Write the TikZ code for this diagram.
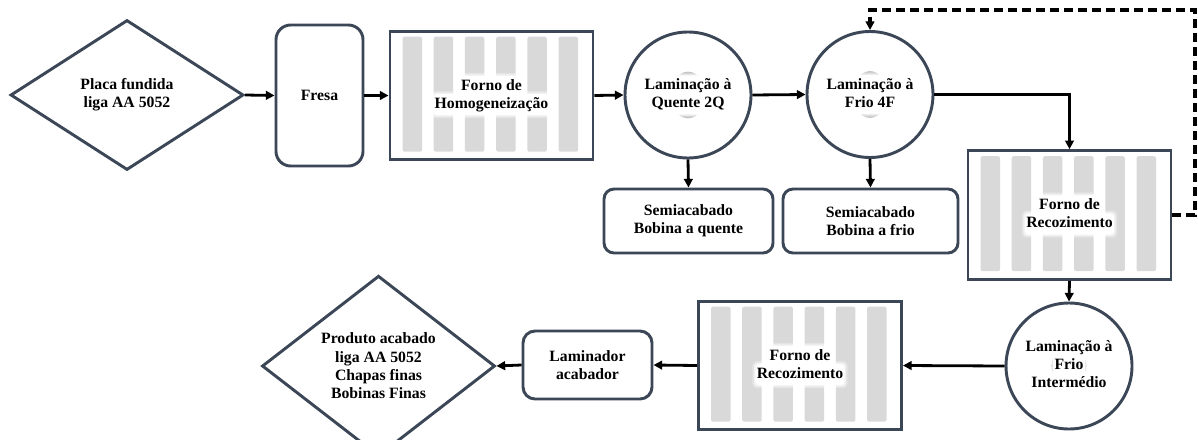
\documentclass[tikz,border=0pt]{standalone}
\usepackage{fontspec}
\setmainfont{Liberation Serif}
\usetikzlibrary{shapes.geometric,arrows.meta}

\definecolor{edge}{HTML}{3B4656}
\definecolor{barfill}{HTML}{D9D9D9}

\tikzset{
  lbl/.style={font=\bfseries\fontsize{11.8}{13.7}\selectfont, align=center, inner sep=0pt},
  frame/.style={draw=edge, line width=2.2pt, fill=white, inner sep=0pt},
  furnace/.style={frame, minimum width=152.25pt, minimum height=96.5pt},
  rollnode/.style={frame, circle, minimum size=94.5pt},
  card/.style={frame, lbl, rounded corners=#1},
  card/.default=7.5pt,
  decision/.style={frame, lbl, diamond, minimum width=174.75pt, minimum height=112.5pt},
  flow/.style={line width=2.1pt, -{Triangle[length=6.5pt,width=6.5pt]}},
  loopback/.style={flow, line width=2.4pt, dash pattern=on 6.5pt off 4pt},
  glowpad/.style={lbl, fill=white, rounded corners=3pt},
}

% six vertical heating elements inside a furnace frame
\newcommand\ovenbars[1]{%
  \foreach \k in {0,...,5}{%
    \fill[barfill, rounded corners=1.5pt]
      ([xshift={(14+31.2*\k)*0.75pt}, yshift=-5.25pt]#1.north west)
      rectangle ++(14.6pt,-86.25pt);}}

% roll drawn behind the text of a rolling-mill circle
\newcommand\rollmark[1]{%
  \shade[inner color=gray!30, outer color=gray!55] (#1) ellipse [x radius=13pt, y radius=17.5pt];}

% soft white patch behind one line of a label
\newcommand\glowpatch[2]{%
  \foreach \s/\o in {3.2/0.3, 2.2/0.55, 1.1/1}{%
    \node[glowpad, fill opacity=\o, inner sep=\s pt] at (#1) {\phantom{\strut #2}};}}

% two- and three-line labels with a white glow
\newcommand\glowtwo[4]{%
  \glowpatch{[yshift=6.85pt]#2}{#3}%
  \glowpatch{[yshift=-6.85pt]#2}{#4}%
  \node[lbl] (#1) at (#2) {\strut #3\\\strut #4};}
\newcommand\glowthree[5]{%
  \glowpatch{[yshift=13.7pt]#2}{#3}%
  \glowpatch{#2}{#4}%
  \glowpatch{[yshift=-13.7pt]#2}{#5}%
  \node[lbl] (#1) at (#2) {\strut #3\\\strut #4\\\strut #5};}

\begin{document}
\begin{tikzpicture}[x=0.75pt, y=-0.75pt, line join=miter]
\useasboundingbox (0,0) rectangle (1198,439);

% ---- upper row
\node[decision] (cast) at (127,95) {Placa fundida\\liga AA 5052};
\node[card=11pt, minimum width=65.25pt, minimum height=105.75pt] (mill) at (319.5,95.5) {Fresa};
\node[furnace] (homog) at (491.5,95.5) {};
\node[rollnode] (hot) at (688,95) {};
\node[rollnode] (cold) at (870,94.5) {};

% ---- semi-finished products
\node[card, minimum width=126.75pt, minimum height=48pt] (semihot) at (688.5,221) {Semiacabado\\Bobina a quente};
\node[card, minimum width=131.25pt, minimum height=48pt] (semicold) at (870.5,221) {Semiacabado\\Bobina a frio};

% ---- annealing and intermediate rolling
\node[furnace] (anneal) at (1069.5,215) {};
\node[rollnode] (inter) at (1069,366) {};

% ---- lower row
\node[furnace] (anneal2) at (800,365.5) {};
\node[card=9pt, minimum width=96.75pt, minimum height=51pt] (finisher) at (587.5,365) {Laminador\\acabador};
\node[decision] (product) at (378.5,366) {Produto acabado\\liga AA 5052\\Chapas finas\\Bobinas Finas};

% ---- furnace elements and rolls
\ovenbars{homog}
\ovenbars{anneal}
\ovenbars{anneal2}
\rollmark{hot}
\rollmark{cold}
\rollmark{inter}

% ---- labels
\glowtwo{homogtxt}{homog}{Forno de}{Homogeneização}
\glowtwo{hottxt}{hot}{Laminação à}{Quente 2Q}
\glowtwo{coldtxt}{cold}{Laminação à}{Frio 4F}
\glowtwo{annealtxt}{anneal}{Forno de}{Recozimento}
\glowthree{intertxt}{inter}{Laminação à}{Frio}{Intermédio}
\glowtwo{anneal2txt}{anneal2}{Forno de}{Recozimento}

% ---- connectors
\draw[flow] (cast.east) -- (mill.west);
\draw[flow] (mill.east) -- (homog.west);
\draw[flow] (homog.east) -- (hot.west);
\draw[flow] (hot.east) -- (cold.west);
\draw[flow] (hot.south) -- (semihot.north);
\draw[flow] (cold.south) -- (semicold.north);
\draw[flow] (cold.east) -| (anneal.north);
\coordinate (loopcorner) at (1195,10);
\draw[loopback] (anneal.east) -| (loopcorner) -| (cold.north);
\draw[flow] (anneal.south) -- (inter.north);
\draw[flow] (inter.west) -- (anneal2.east);
\draw[flow] (anneal2.west) -- (finisher.east);
\draw[flow] (finisher.west) -- (product.east);
\end{tikzpicture}
\end{document}
